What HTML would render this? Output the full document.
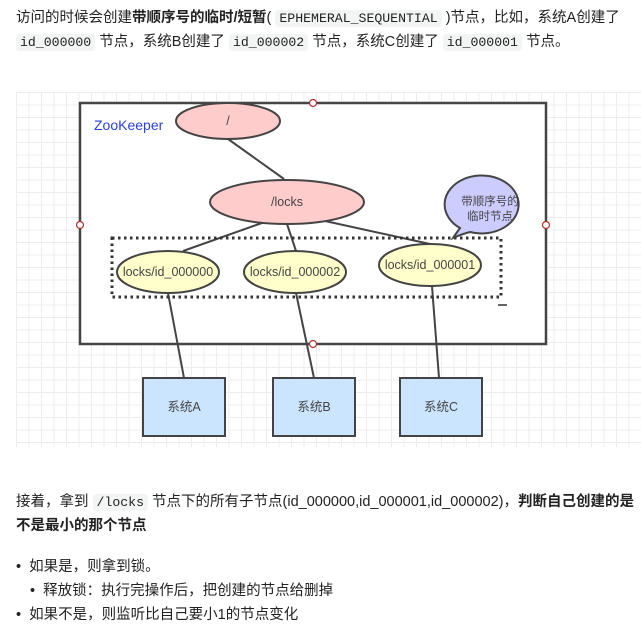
<!DOCTYPE html>
<html><head><meta charset="utf-8"><style>
body{margin:0;width:641px;height:629px;background:#fff;font-family:"Liberation Sans","Noto Sans CJK SC",sans-serif;color:#222;font-size:14.5px;position:relative;overflow:hidden}
.t{position:absolute;left:16px;white-space:nowrap}
code{font-family:"Liberation Mono","Noto Sans CJK SC",monospace;background:#f3f4f4;padding:1px 4px;border-radius:3px;font-size:13.2px}
b{font-weight:bold}
.grid{position:absolute;left:16px;top:92px;width:625px;height:355px;background-color:#fff;background-image:linear-gradient(#ececec 1px,transparent 1px),linear-gradient(90deg,#ececec 1px,transparent 1px);background-size:12.5px 12.5px}
</style></head><body>
<div class="t" style="top:6px">访问的时候会创建<b>带顺序号的临时/短暂</b>( <code>EPHEMERAL_SEQUENTIAL</code> )节点，比如，系统A创建了</div>
<div class="t" style="top:30px"><code>id_000000</code> 节点，系统B创建了 <code>id_000002</code> 节点，系统C创建了 <code>id_000001</code> 节点。</div>
<div class="grid"></div>
<svg style="position:absolute;left:0;top:0" width="641" height="629" font-family="Liberation Sans,Noto Sans CJK SC,sans-serif">
<rect x="80" y="103" width="466" height="241" fill="#fff" stroke="#444" stroke-width="2.5"/>
<text x="94" y="130" fill="#2a3fe0" font-size="14">ZooKeeper</text>
<g stroke="#444" stroke-width="2" fill="none">
<line x1="228" y1="139" x2="284" y2="179"/>
<line x1="262" y1="223" x2="183" y2="251"/>
<line x1="287" y1="224" x2="296" y2="251"/>
<line x1="325" y1="221" x2="430" y2="244"/>
<line x1="168" y1="293" x2="184" y2="378"/>
<line x1="296" y1="293" x2="314" y2="378"/>
<line x1="432" y1="286" x2="439" y2="378"/>
</g>
<rect x="112" y="238" width="389" height="59" fill="none" stroke="#333" stroke-width="3" stroke-dasharray="2.5,3.5"/>
<line x1="498" y1="305" x2="507" y2="305" stroke="#333" stroke-width="1.5"/>
<g stroke="#444" stroke-width="2">
<ellipse cx="228" cy="121" rx="52" ry="18" fill="#ffcccc"/>
<ellipse cx="287" cy="202" rx="77" ry="22" fill="#ffcccc"/>
<ellipse cx="168" cy="272" rx="51" ry="21" fill="#ffffcc"/>
<ellipse cx="295" cy="272" rx="51" ry="21" fill="#ffffcc"/>
<ellipse cx="430" cy="265" rx="51" ry="21" fill="#ffffcc"/>
<path d="M460 228 Q455 235 453 238 Q462 234 470 232 A37 29 0 1 0 460 228 Z" fill="#ccccff"/>
</g>
<g font-size="12.5" fill="#444" text-anchor="middle">
<text x="228" y="125">/</text>
<text x="287" y="206">/locks</text>
<text x="168" y="276">locks/id_000000</text>
<text x="295" y="276">locks/id_000002</text>
<text x="430" y="269">locks/id_000001</text>
<text x="490" y="205" font-size="11.5">带顺序号的</text>
<text x="490" y="220" font-size="11.5">临时节点</text>
</g>
<g fill="#fff" stroke="#b03030" stroke-width="1.2">
<circle cx="313" cy="103" r="3.5"/><circle cx="80" cy="225" r="3.5"/><circle cx="546" cy="225" r="3.5"/><circle cx="313" cy="344" r="3.5"/>
</g>
<g stroke="#444" stroke-width="2" fill="#cce5ff">
<rect x="143" y="378" width="82" height="58"/>
<rect x="273" y="378" width="82" height="58"/>
<rect x="400" y="378" width="82" height="58"/>
</g>
<g font-size="12.5" fill="#444" text-anchor="middle">
<text x="184" y="411">系统A</text><text x="314" y="411">系统B</text><text x="441" y="411">系统C</text>
</g>
</svg>
<div class="t" style="top:490px">接着，拿到 <code>/locks</code> 节点下的所有子节点(id_000000,id_000001,id_000002)，<b>判断自己创建的是</b></div>
<div class="t" style="top:514px"><b>不是最小的那个节点</b></div>
<div class="t" style="top:555px">• &nbsp;如果是，则拿到锁。</div>
<div class="t" style="top:579px;left:30px">• &nbsp;释放锁：执行完操作后，把创建的节点给删掉</div>
<div class="t" style="top:603px">• &nbsp;如果不是，则监听比自己要小1的节点变化</div>
</body></html>
